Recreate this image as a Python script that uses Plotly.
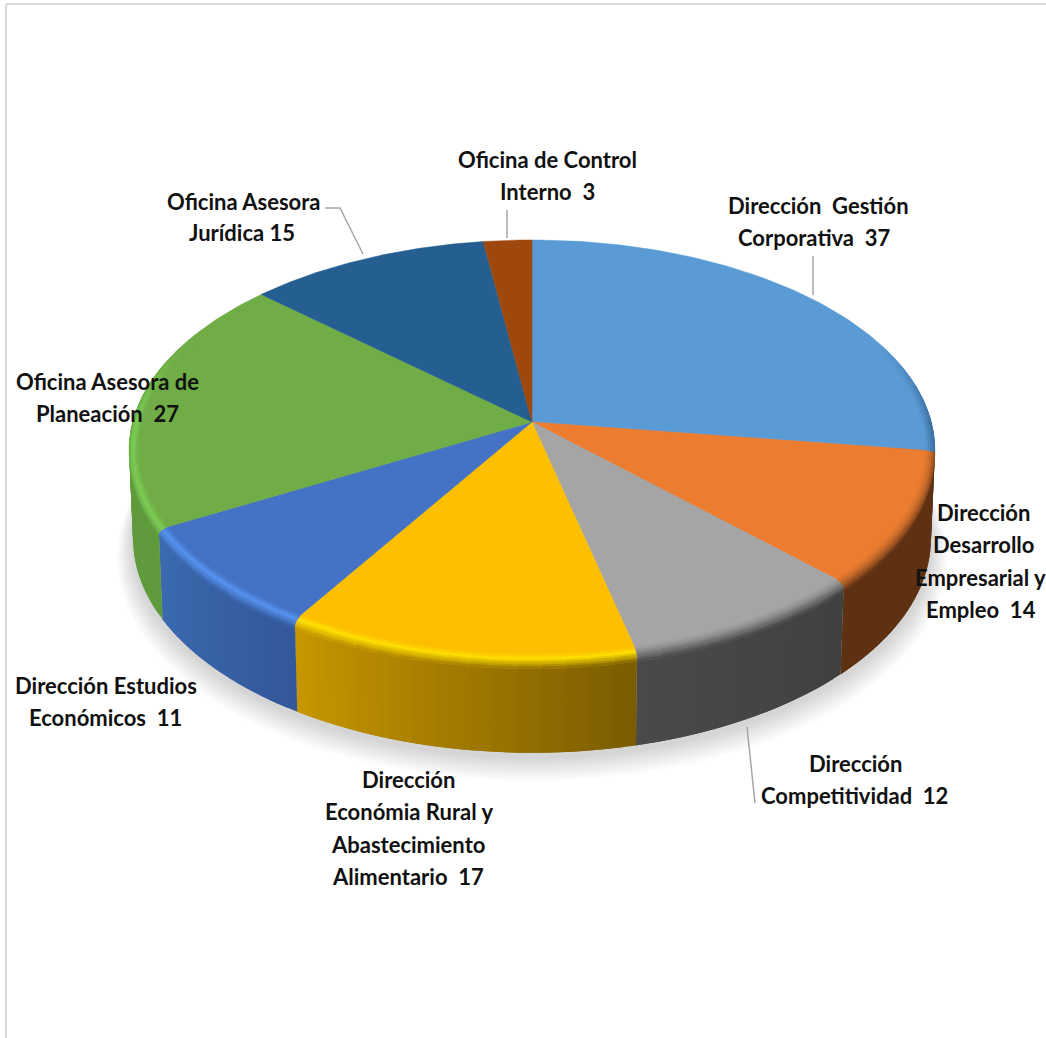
import numpy as np
import plotly.graph_objects as go

# ---------- data ----------
categories = ["Dirección Gestión Corporativa", "Dirección Desarrollo Empresarial y Empleo",
              "Dirección Competitividad", "Dirección Economía Rural y Abastecimiento Alimentario",
              "Dirección Estudios Económicos", "Oficina Asesora de Planeación",
              "Oficina Asesora Jurídica", "Oficina de Control Interno"]
values = [37, 14, 12, 17, 11, 27, 15, 3]
top_colors = ["#5B9BD5", "#EB7C30", "#A5A5A5", "#FDBF00", "#4472C4", "#70AD47", "#255E91", "#9E480E"]
wall_start = ["#2f5f8c", "#5f3113", "#404040", "#7a5c00", "#33589a", "#5f9a3c", "#1b4469", "#6d3209"]
wall_end = ["#2f5f8c", "#5f3113", "#4a4a4a", "#c79700", "#3b6ab0", "#5f9a3c", "#1b4469", "#6d3209"]
bevel_mid = ["#4a80b4", "#c46a2a", "#8a8a8a", "#FFE000", "#5793F0", "#7ccc55", "#255E91", "#9E480E"]

NB = "\u00a0"
label_lines = [
    ("Oficina de Control", 547, 159), (f"Interno{NB}{NB}3", 547, 191),
    (f"Dirección{NB}{NB}Gestión", 818, 205), (f"Corporativa{NB}{NB}37", 814, 237),
    ("Oficina Asesora", 243, 201), ("Jurídica 15", 242, 232),
    ("Oficina Asesora de", 107, 381), (f"Planeación{NB}{NB}27", 107, 413),
    ("Dirección", 983, 512), ("Desarrollo", 983, 544), ("Empresarial y", 980, 577),
    (f"Empleo{NB}{NB}14", 981, 609),
    ("Dirección", 855, 763), (f"Competitividad{NB}{NB}12", 854, 795),
    ("Dirección Estudios", 106, 685), (f"Económicos{NB}{NB}11", 105, 717),
    ("Dirección", 408, 779), ("Económia Rural y", 409, 811),
    ("Abastecimiento", 408, 844), (f"Alimentario{NB}{NB}17", 408, 876),
]
leader_lines = [
    ([325, 340, 363], [208, 208, 254]),
    ([507, 507], [210, 238]),
    ([813, 813], [256, 295]),
    ([747, 755], [727, 803]),
]

# ---------- perspective pie geometry ----------
CX, CY = 532.0, 422.0
A, B, K = 399.4, 206.3, 0.1333
WALL_DY, WALL_AX, WALL_BY = 88.0, 0.99, 1.02

def top_xy(theta, r=1.0):
    u, v = r * np.sin(theta), r * np.cos(theta)
    w = 1 + K * v
    return CX + A * u / w, CY - B * v / w

def bot_xy(theta, r=1.0):
    u, v = r * np.sin(theta), r * np.cos(theta)
    w = 1 + K * v
    return CX + WALL_AX * A * u / w, CY + WALL_DY - WALL_BY * B * v / w

def rgb(h):
    return np.array([int(h[i:i + 2], 16) for i in (1, 3, 5)], float)

def mix(c1, c2, t):
    c = rgb(c1) * (1 - t) + rgb(c2) * t
    return "#%02x%02x%02x" % tuple(int(round(x)) for x in c)

fig = go.Figure()

def poly(xs, ys, color, name=None, lw=0.0):
    fig.add_trace(go.Scatter(x=list(xs), y=list(ys), mode="lines", fill="toself", fillcolor=color,
                             line=dict(color=color, width=lw), hoverinfo="skip", showlegend=False,
                             name=name))

# soft shadow
full = np.linspace(0, 2 * np.pi, 181)
for i in range(14):
    f = 1 - i / 14
    x, y = bot_xy(full, 1.0 + 0.04 * f)
    fig.add_trace(go.Scatter(x=x, y=y + 4 + 13 * f, mode="lines", fill="toself",
                             fillcolor="rgba(0,0,0,0.013)", line=dict(width=0),
                             hoverinfo="skip", showlegend=False))

# angular boundaries from the values
total = sum(values)
edges = np.radians(np.concatenate([[0], np.cumsum(values)]) / total * 360)
OVERLAP = np.radians(1.5)

# walls: each strip runs under the next one so no seam shows
for i, name in enumerate(categories):
    a0, a1 = edges[i], edges[i + 1]
    n = max(2, int(np.degrees(a1 - a0) / 1.5))
    th = np.linspace(a0, a1, n + 1)
    for j in range(n):
        if np.cos(th[j]) > 0.3 and np.cos(th[j + 1]) > 0.3:
            continue
        t = np.linspace(th[j], min(th[j + 1] + OVERLAP, a1), 4)
        xt, yt = top_xy(t)
        xb, yb = bot_xy(t)
        poly(np.r_[xt, xb[::-1], xt[0]], np.r_[yt, yb[::-1], yt[0]],
             mix(wall_start[i], wall_end[i], (j + 0.5) / n), name)

# top faces
for i, name in enumerate(categories):
    t = np.linspace(edges[i], edges[i + 1], 80)
    x, y = top_xy(t)
    poly(np.r_[CX, x, CX], np.r_[CY, y, CY], top_colors[i], name, lw=0.5)

# bevel around the rim, blending from the top face into the wall
rings = np.array([0.976, 0.98, 0.984, 0.988, 0.992, 0.996, 1.0, 1.0, 1.0])
drops = np.array([0, 0.5, 1, 1.5, 2, 3, 4.5, 6.5, 9])
for i, name in enumerate(categories):
    a0, a1 = edges[i], edges[i + 1]
    n = max(2, int(np.degrees(a1 - a0) / 3))
    th = np.linspace(a0, a1, n + 1)
    for j in range(n):
        mid = 0.5 * (th[j] + th[j + 1])
        s = float(np.clip((0.4 - np.cos(mid)) / 0.4, 0, 1))
        if s <= 0:
            continue
        wall_c = mix(wall_start[i], wall_end[i], (j + 0.5) / n)
        t = np.linspace(th[j], min(th[j + 1] + OVERLAP, a1), 4)
        sk = s * np.clip(-np.cos(t) + 0.25, 0, 1)
        for k in range(len(rings) - 1):
            q = (k + 0.5) / (len(rings) - 1)
            if q < 0.45:
                c = mix(top_colors[i], bevel_mid[i], q / 0.45)
            else:
                c = mix(bevel_mid[i], wall_c, (q - 0.45) / 0.55)
            if rings[k] < 1.0:
                c = mix(top_colors[i], c, s)
            kn = min(k + 2, len(rings) - 1)
            xi, yi = top_xy(t, rings[k])
            xo, yo = top_xy(t, rings[kn])
            yi = yi + drops[k] * sk
            yo = yo + drops[kn] * sk
            poly(np.r_[xi, xo[::-1], xi[0]], np.r_[yi, yo[::-1], yi[0]], c, name)

# leader lines
for lx, ly in leader_lines:
    fig.add_trace(go.Scatter(x=lx, y=ly, mode="lines", line=dict(color="#a6a6a6", width=1.5),
                             hoverinfo="skip", showlegend=False))

# labels
for text, x, y in label_lines:
    fig.add_annotation(x=x, y=y, text=f"<b>{text}</b>", showarrow=False, xanchor="center", yanchor="middle",
                       font=dict(family="Lato", size=22, color="#111111"))

# frame
fig.add_shape(type="line", x0=6, x1=6, y0=4, y1=1038, line=dict(color="#d9d9d9", width=2))
fig.add_shape(type="line", x0=6, x1=1046, y0=4, y1=4, line=dict(color="#d9d9d9", width=2))

fig.update_layout(width=1046, height=1038, margin=dict(l=0, r=0, t=0, b=0),
                  paper_bgcolor="white", plot_bgcolor="white", showlegend=False,
                  xaxis=dict(range=[0, 1046], visible=False, fixedrange=True),
                  yaxis=dict(range=[1038, 0], visible=False, fixedrange=True))

fig.write_html("out.html", config=dict(displayModeBar=False),
               post_script="document.body.style.margin='0';document.body.style.overflow='hidden';")
